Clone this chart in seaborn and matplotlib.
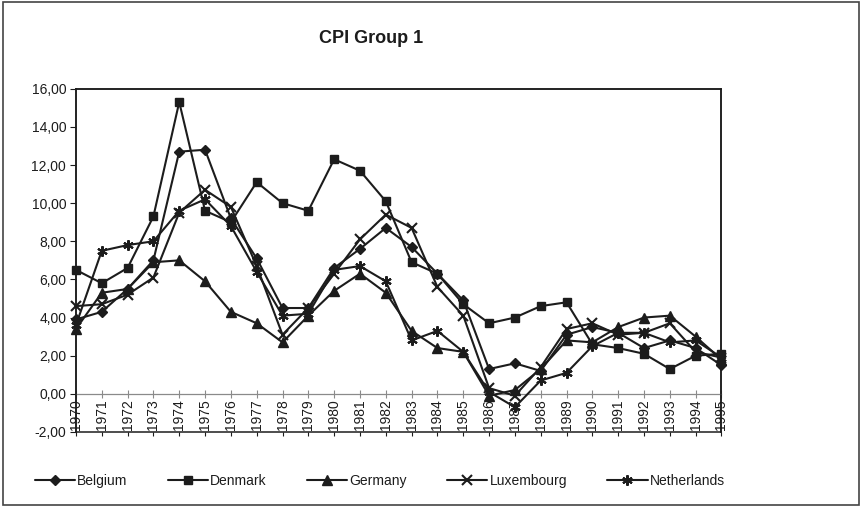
import matplotlib
matplotlib.use('Agg')
import matplotlib.pyplot as plt
from matplotlib.patches import Rectangle
from matplotlib.ticker import FuncFormatter
import seaborn as sns
import pandas as pd

years = list(range(1970, 1996))
countries = ['Belgium', 'Denmark', 'Germany', 'Luxembourg', 'Netherlands']
belgium = [3.9, 4.3, 5.5, 7.0, 12.7, 12.8, 9.2, 7.1, 4.5, 4.5, 6.6, 7.6, 8.7,
           7.7, 6.3, 4.9, 1.3, 1.6, 1.2, 3.1, 3.5, 3.2, 2.4, 2.8, 2.4, 1.5]
denmark = [6.5, 5.8, 6.6, 9.3, 15.3, 9.6, 9.0, 11.1, 10.0, 9.6, 12.3, 11.7, 10.1,
           6.9, 6.3, 4.7, 3.7, 4.0, 4.6, 4.8, 2.6, 2.4, 2.1, 1.3, 2.0, 2.1]
germany = [3.4, 5.3, 5.5, 6.9, 7.0, 5.9, 4.3, 3.7, 2.7, 4.1, 5.4, 6.3, 5.3,
           3.3, 2.4, 2.2, -0.1, 0.2, 1.3, 2.8, 2.7, 3.5, 4.0, 4.1, 3.0, 1.8]
luxembourg = [4.6, 4.7, 5.2, 6.1, 9.5, 10.7, 9.8, 6.7, 3.1, 4.5, 6.3, 8.1, 9.4,
              8.7, 5.6, 4.1, 0.3, -0.1, 1.4, 3.4, 3.7, 3.1, 3.2, 3.7, 2.2, 1.9]
netherlands = [3.6, 7.5, 7.8, 8.0, 9.6, 10.2, 8.8, 6.4, 4.1, 4.2, 6.5, 6.7, 5.9,
               2.8, 3.3, 2.2, 0.1, -0.7, 0.7, 1.1, 2.5, 3.2, 3.2, 2.7, 2.8, 1.9]
y_ticks = [-2, 0, 2, 4, 6, 8, 10, 12, 14, 16]

INK = '#1c1c1c'
markers = {'Belgium': ('D', 5, 1.0), 'Denmark': ('s', 6, 1.0),
           'Germany': ('^', 6.5, 1.0), 'Luxembourg': ('x', 6.5, 1.5),
           'Netherlands': ((6, 2, 0), 7.5, 1.5)}

sns.set_theme(style='white')
plt.rcParams['font.family'] = ['Liberation Sans', 'DejaVu Sans']

df = pd.DataFrame({'Year': years, 'Belgium': belgium, 'Denmark': denmark,
                   'Germany': germany, 'Luxembourg': luxembourg,
                   'Netherlands': netherlands})

fig = plt.figure(figsize=(8.63, 5.07), dpi=100)
ax = fig.add_axes([0.088, 0.148, 0.748, 0.677])

for name in countries:
    m, ms, mew = markers[name]
    sns.lineplot(data=df, x='Year', y=name, ax=ax, color=INK, linewidth=1.5,
                 marker=m, markersize=ms, markeredgewidth=mew,
                 markeredgecolor=INK, markerfacecolor=INK, label=name,
                 clip_on=False, zorder=3)

ax.set_xlim(1970, 1995)
ax.set_ylim(-2, 16)
ax.set_xlabel('')
ax.set_ylabel('')
ax.set_yticks(y_ticks)
ax.yaxis.set_major_formatter(FuncFormatter(lambda v, p: f'{v:.2f}'.replace('.', ',')))
ax.tick_params(axis='y', direction='out', length=4, width=0.8, color=INK,
               labelsize=10, labelcolor=INK, pad=3, left=True)

ax.set_xticks(years)
ax.set_xticklabels([str(y) for y in years])
ax.spines['bottom'].set_position(('data', 0))
ax.spines['bottom'].set_color('#8a8a8a')
ax.spines['bottom'].set_linewidth(0.9)
ax.tick_params(axis='x', direction='inout', length=6, width=0.8, color='#8a8a8a',
               labelsize=10, labelcolor=INK, pad=1, bottom=True, labelrotation=90)
for s in ['left', 'top', 'right']:
    ax.spines[s].set_color(INK)
    ax.spines[s].set_linewidth(1.1)

# bottom frame with its own small ticks
ax_b = ax.twiny()
ax_b.set_xlim(1970, 1995)
ax_b.set_xticks(years)
ax_b.xaxis.set_ticks_position('bottom')
ax_b.tick_params(axis='x', direction='out', length=3, width=0.8, color=INK,
                 labelbottom=False, labeltop=False)
for s in ['bottom', 'top', 'left', 'right']:
    ax_b.spines[s].set_color(INK)
    ax_b.spines[s].set_linewidth(1.1)

handles, labels = ax.get_legend_handles_labels()
ax.get_legend().remove()
fig.legend(handles, labels, loc='center', bbox_to_anchor=(0.44, 0.051), ncol=5,
           frameon=False, fontsize=10, handlelength=2.9, handletextpad=0.15,
           columnspacing=2.9, labelcolor=INK)

fig.text(0.43, 0.925, 'CPI Group 1', ha='center', va='center', fontsize=13,
         fontweight='bold', color=INK)

fig.patches.append(Rectangle((0.003, 0.004), 0.992, 0.992, transform=fig.transFigure,
                             fill=False, edgecolor='#444444', linewidth=1.2))

plt.savefig('out.png', dpi=100, facecolor='white')
